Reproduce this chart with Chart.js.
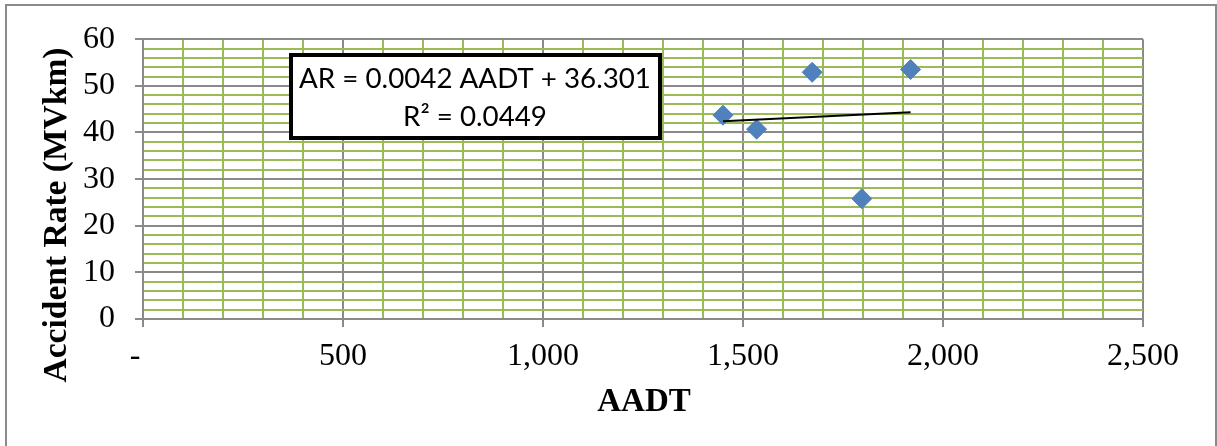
<!DOCTYPE html>
<html>
<head>
<meta charset="utf-8">
<script src="https://cdn.jsdelivr.net/npm/chart.js@4.4.1/dist/chart.umd.min.js"></script>
<style>
  html, body { margin: 0; padding: 0; background: #fff; }
  #wrap { width: 1217px; height: 446px; }
</style>
</head>
<body>
<div id="wrap"><canvas id="aadtChart" width="1217" height="446"></canvas></div>
<script>
// data
const aadt = [1450, 1534, 1673, 1797, 1919];
const accidentRate = [43.7, 40.7, 52.9, 25.8, 53.5];

// trendline from the equation shown on the chart
const trendSlope = 0.0042;
const trendIntercept = 36.301;
const equationLines = ['AR = 0.0042 AADT + 36.301', 'R\u00B2 = 0.0449'];

const xTitle = 'AADT';
const yTitle = 'Accident Rate (MVkm)';

const GREEN = '#9BBB59';
const GRAY = '#8A8A8A';
const SERIF = '"Liberation Serif", "Times New Roman", serif';

const xMin = Math.min(...aadt), xMax = Math.max(...aadt);

// fond + bordure extérieure, titres et encadré de l'équation
const decorPlugin = {
    id: 'decor',
    beforeDraw(chart) {
        const ctx = chart.ctx;
        ctx.save();
        ctx.fillStyle = '#fff';
        ctx.fillRect(0, 0, chart.width, chart.height);
        ctx.strokeStyle = GRAY;
        ctx.lineWidth = 2;
        ctx.strokeRect(6, 5, 1210, 480);
        ctx.restore();
    },
    afterDraw(chart) {
        const ctx = chart.ctx;
        ctx.save();
        // titres des axes
        ctx.fillStyle = '#000';
        ctx.textAlign = 'center';
        ctx.textBaseline = 'middle';
        ctx.font = 'bold 33px ' + SERIF;
        ctx.fillText(xTitle, 644, 402);
        ctx.font = 'bold 33.5px ' + SERIF;
        ctx.translate(57, 215);
        ctx.rotate(-Math.PI / 2);
        ctx.fillText(yTitle, 0, 0);
        ctx.restore();

        // encadré équation
        ctx.save();
        ctx.fillStyle = '#fff';
        ctx.fillRect(291, 55, 369, 83);
        ctx.strokeStyle = '#000';
        ctx.lineWidth = 4;
        ctx.strokeRect(291, 55, 369, 83);
        let size = 28;
        ctx.font = size + 'px Lato';
        const w = ctx.measureText(equationLines[0]).width;
        size = size * 352 / w;
        ctx.font = size + 'px Lato';
        ctx.fillStyle = '#000';
        ctx.textAlign = 'center';
        ctx.textBaseline = 'middle';
        ctx.fillText(equationLines[0], 475, 79);
        ctx.fillText(equationLines[1], 475, 117);
        ctx.restore();
    }
};

const ctx = document.getElementById('aadtChart').getContext('2d');
new Chart(ctx, {
    type: 'scatter',
    data: {
        datasets: [
            {
                label: 'Linear (AADT)',
                type: 'line',
                data: [
                    { x: xMin, y: trendSlope * xMin + trendIntercept },
                    { x: xMax, y: trendSlope * xMax + trendIntercept }
                ],
                borderColor: '#000',
                borderWidth: 2,
                pointRadius: 0,
                fill: false,
                order: 0
            },
            {
                label: 'Accident Rate',
                data: aadt.map((x, i) => ({ x: x, y: accidentRate[i] })),
                pointStyle: 'rectRot',
                pointRadius: 10,
                pointHoverRadius: 10,
                backgroundColor: '#4F81BD',
                borderColor: '#4F81BD',
                borderWidth: 1,
                order: 1
            }
        ]
    },
    options: {
        responsive: false,
        animation: false,
        events: [],
        layout: { padding: { top: 36, right: 74, left: 0, bottom: 0 } },
        plugins: {
            legend: { display: false },
            tooltip: { enabled: false }
        },
        scales: {
            x: {
                type: 'linear',
                min: 0,
                max: 2500,
                afterFit: s => { s.height = 127; },
                afterBuildTicks: s => {
                    s.ticks = [];
                    for (let v = 0; v <= 2500; v += 100) s.ticks.push({ value: v });
                },
                ticks: {
                    autoSkip: false,
                    maxRotation: 0,
                    padding: 10,
                    color: '#000',
                    font: { family: SERIF, size: 32 },
                    callback: v => {
                        if (v % 500 !== 0) return '';
                        if (v === 0) return '-  ';
                        return v.toLocaleString('en-US');
                    }
                },
                grid: {
                    color: c => (c.tick && c.tick.value % 500 === 0) ? GRAY : GREEN,
                    lineWidth: 2,
                    tickColor: c => (c.tick && c.tick.value % 500 === 0) ? GRAY : 'rgba(0,0,0,0)',
                    tickLength: 8,
                    tickWidth: 2
                },
                border: { color: GRAY, width: 2 }
            },
            y: {
                type: 'linear',
                min: 0,
                max: 60,
                afterFit: s => { s.width = 143; },
                afterBuildTicks: s => {
                    s.ticks = [];
                    for (let v = 0; v <= 60; v += 2) s.ticks.push({ value: v });
                },
                ticks: {
                    autoSkip: false,
                    padding: 20,
                    color: '#000',
                    font: { family: SERIF, size: 32 },
                    callback: v => (v % 10 === 0 ? String(v) : '')
                },
                grid: {
                    color: c => (c.tick && c.tick.value % 10 === 0) ? GRAY : GREEN,
                    lineWidth: 2,
                    tickColor: c => (c.tick && c.tick.value % 10 === 0) ? GRAY : 'rgba(0,0,0,0)',
                    tickLength: 8,
                    tickWidth: 2
                },
                border: { color: GRAY, width: 2 }
            }
        }
    },
    plugins: [decorPlugin]
});
</script>
</body>
</html>
